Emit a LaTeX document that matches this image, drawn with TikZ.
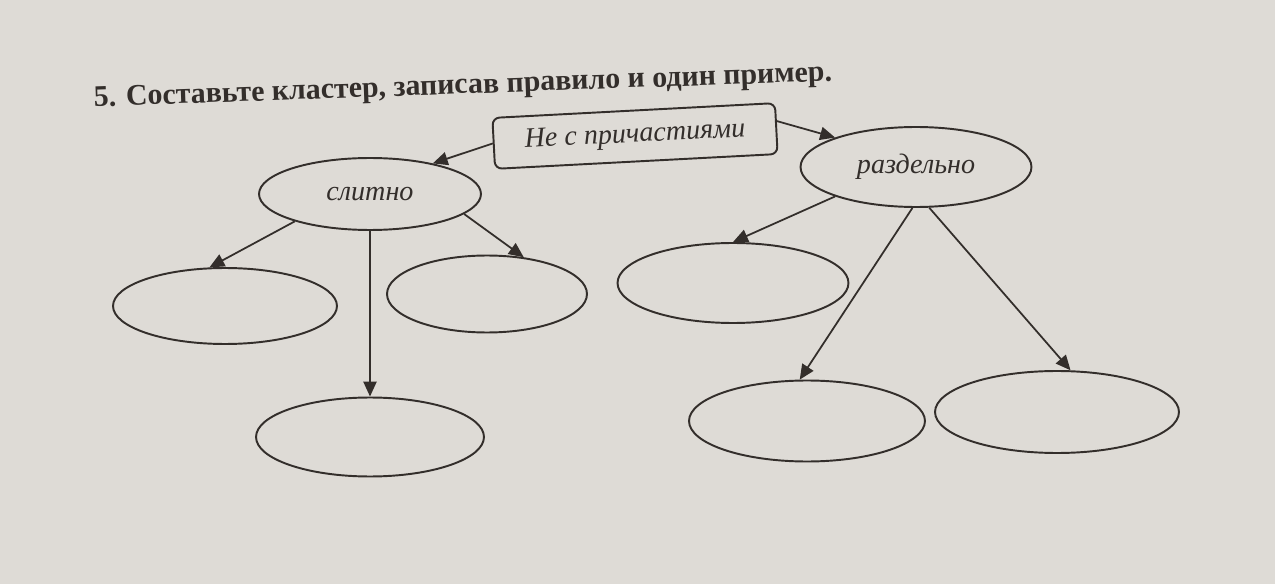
\documentclass[tikz,border=0pt]{standalone}
\usepackage{fontspec}
\setmainfont{Liberation Serif}
\usetikzlibrary{shapes,arrows,arrows.meta,positioning}

\definecolor{paper}{rgb}{0.87,0.86,0.84}
\definecolor{ink}{rgb}{0.2,0.18,0.17}

\tikzset{
  oval/.style={ellipse,draw=ink,line width=1.1pt,inner sep=0pt},
  link/.style={-{Triangle[length=8.5pt,width=7.5pt]},draw=ink,fill=ink,line width=1pt},
  label/.style={font=\fontsize{16}{18}\selectfont\itshape,text=ink}
}

\begin{document}
\begin{tikzpicture}[x=0.02cm,y=-0.02cm]
	\fill[paper] (0,0) rectangle (1275,584);
	\useasboundingbox (0,0) rectangle (1275,584);
	\node[rotate=2,text=ink,font=\fontsize{17}{20}\selectfont\bfseries] (title) at (463,87) {5. Составьте кластер, записав правило и один пример.};
	\node[draw=ink,line width=1.1pt,rounded corners=4pt,rotate=3,minimum width=5.66cm,minimum height=1.02cm,label] (rule) at (635,136) {Не с причастиями};
	% first level
	\node[oval,minimum width=4.44cm,minimum height=1.44cm,label] (slit) at (370,194) {слитно};
	\node[oval,minimum width=4.62cm,minimum height=1.6cm,label] (razd) at (916,167) {раздельно};
	% empty ovals
	\node[oval,minimum width=4.48cm,minimum height=1.52cm] (e1) at (225,306) {};
	\node[oval,minimum width=4.0cm,minimum height=1.54cm] (e2) at (487,294) {};
	\node[oval,minimum width=4.56cm,minimum height=1.58cm] (e3) at (370,437) {};
	\node[oval,minimum width=4.62cm,minimum height=1.6cm] (e4) at (733,283) {};
	\node[oval,minimum width=4.72cm,minimum height=1.62cm] (e5) at (807,421) {};
	\node[oval,minimum width=4.88cm,minimum height=1.64cm] (e6) at (1057,412) {};
	% arrows
	\draw[link] (rule.west) -- (slit.26);
	\draw[link] (rule.3.5) -- (razd.160);
	\draw[link] (slit.200) -- (e1.112);
	\draw[link] (slit.-12) -- (e2.45);
	\draw[link] (slit.south) -- (e3.north);
	\draw[link] (razd.200) -- (e4.90);
	\draw[link] (razd.-95) -- (e5.100);
	\draw[link] (razd.-72) -- (e6.72);
\end{tikzpicture}
\end{document}
